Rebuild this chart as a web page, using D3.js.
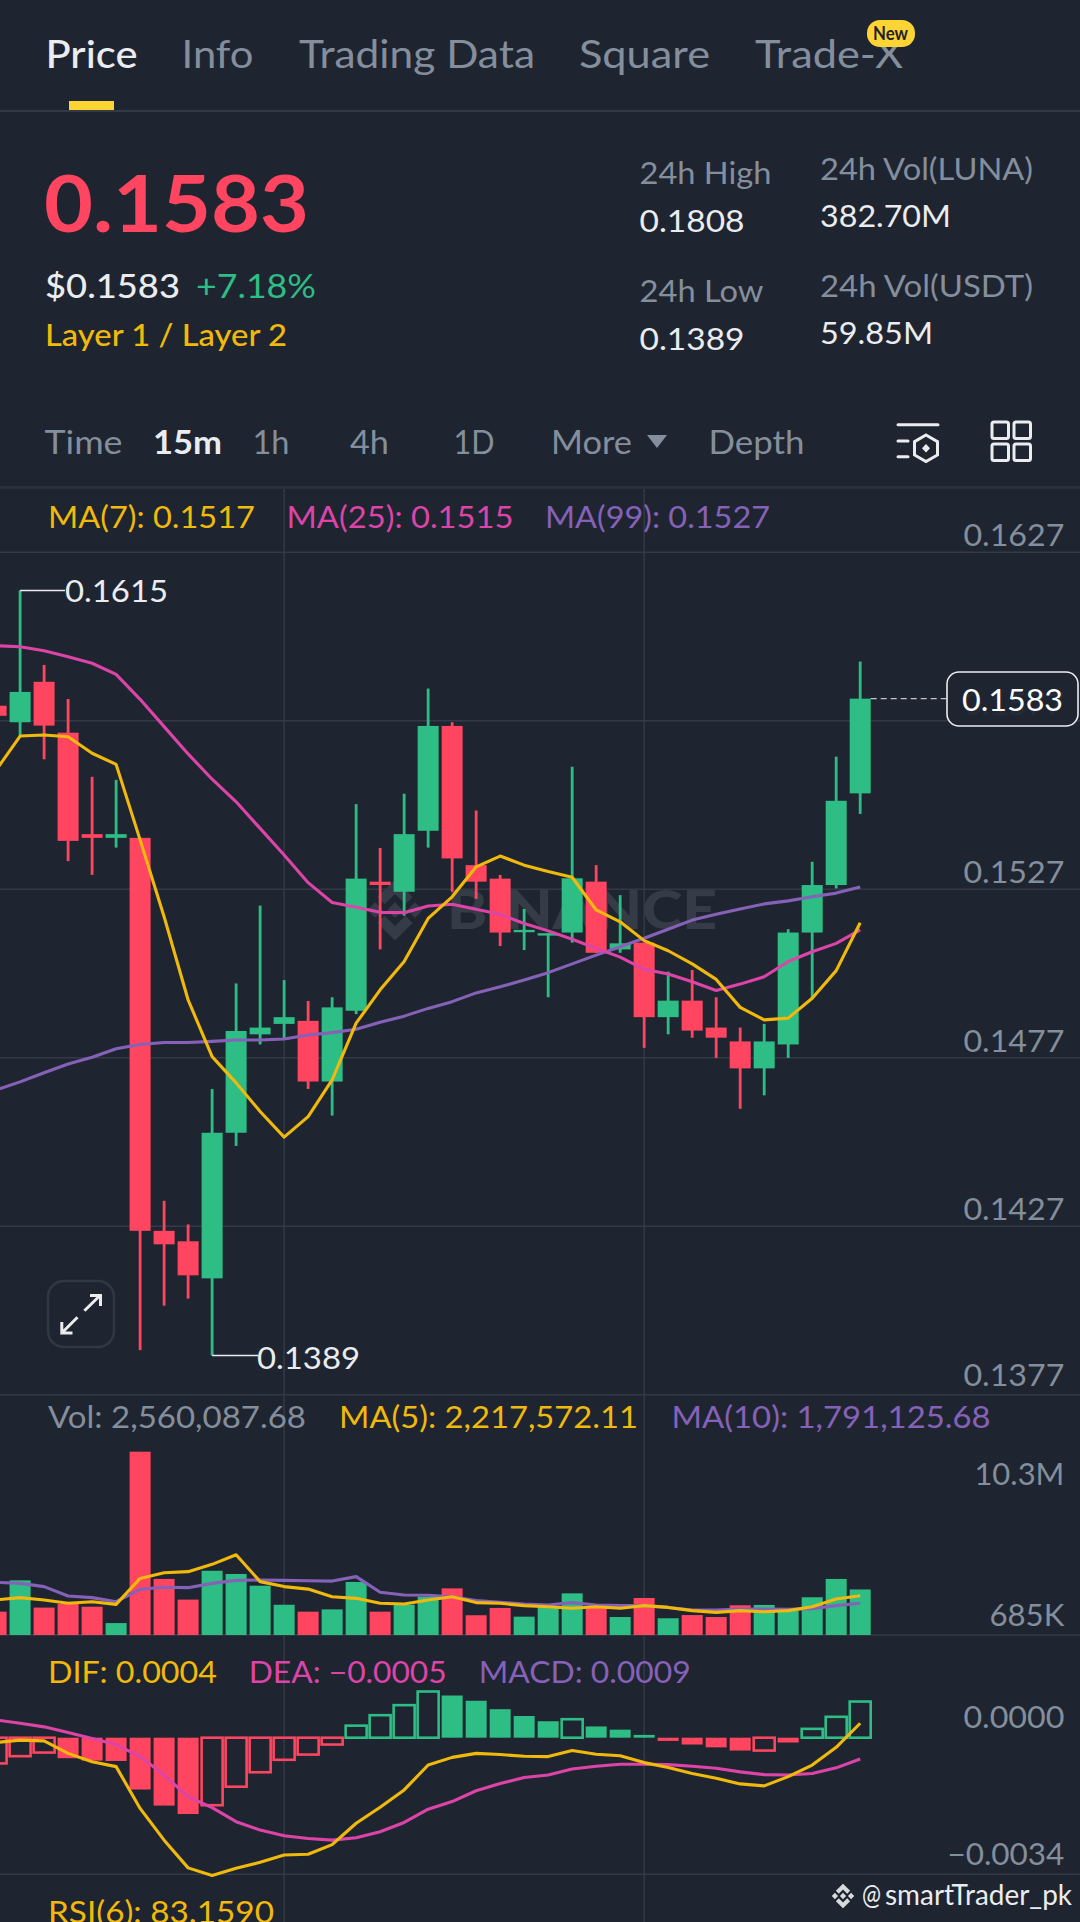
<!DOCTYPE html>
<html>
<head>
<meta charset="utf-8">
<script src="https://cdn.jsdelivr.net/npm/d3@7"></script>
<style>
  html, body { margin: 0; padding: 0; background: #1e2530; overflow: hidden; }
  svg { display: block; }
  text { font-family: Lato, sans-serif; }
</style>
</head>
<body>
<div id="root"></div>
<script>
var bg = "#1e2530", grid = "#343a45", gray = "#848e9c", white = "#eaecef";
var up = "#2ebd85", down = "#ff4560", yellow = "#f0b90b", pink = "#dc44a8", purple = "#8661b8";
var font = "Lato, sans-serif";

// 15m candles, partly cut by the left edge
var candleIndex = d3.range(37);
var opens = [0.15813,0.15764,0.15884,0.15733,0.15432,0.15421,0.15421,0.14255,0.14224,0.14114,0.14546,0.14838,0.14869,0.14878,0.14698,0.14908,0.15291,0.15261,0.15442,0.15753,0.15340,0.15300,0.15141,0.15131,0.15140,0.15291,0.15090,0.15110,0.14889,0.14938,0.14858,0.14817,0.14737,0.14808,0.15140,0.15281,0.15553];
var highs = [0.15813,0.16155,0.15934,0.15833,0.15602,0.15593,0.15421,0.14344,0.14274,0.14676,0.14989,0.15220,0.14999,0.14937,0.14948,0.15521,0.15391,0.15552,0.15864,0.15764,0.15502,0.15311,0.15210,0.15138,0.15632,0.15340,0.15251,0.15110,0.15024,0.15029,0.14948,0.14858,0.14869,0.15150,0.15350,0.15662,0.15944];
var lows = [0.15783,0.15721,0.15654,0.15352,0.15311,0.15392,0.13901,0.14033,0.14054,0.13885,0.14507,0.14808,0.14821,0.14676,0.14597,0.14898,0.15090,0.15190,0.15392,0.15261,0.15240,0.15100,0.15088,0.14948,0.15110,0.15080,0.15080,0.14798,0.14838,0.14828,0.14768,0.14617,0.14657,0.14768,0.14945,0.15271,0.15492];
var closes = [0.15783,0.15854,0.15754,0.15412,0.15421,0.15432,0.14255,0.14215,0.14123,0.14546,0.14848,0.14858,0.14889,0.14698,0.14918,0.15300,0.15281,0.15432,0.15753,0.15360,0.15291,0.15140,0.15148,0.15138,0.15301,0.15080,0.15108,0.14889,0.14938,0.14849,0.14828,0.14737,0.14817,0.15140,0.15281,0.15531,0.15834];

var ma7 = [0.15622,0.15723,0.15726,0.15721,0.15672,0.15639,0.15415,0.15187,0.14940,0.14772,0.14694,0.14609,0.14533,0.14594,0.14703,0.14871,0.14970,0.15054,0.15182,0.15246,0.15335,0.15367,0.15340,0.15321,0.15304,0.15207,0.15172,0.15116,0.15086,0.15047,0.15001,0.14918,0.14881,0.14886,0.14945,0.15027,0.15169];
var ma25 = [0.15991,0.15988,0.15976,0.15958,0.15939,0.15906,0.15832,0.15751,0.15670,0.15595,0.15528,0.15449,0.15370,0.15288,0.15229,0.15215,0.15200,0.15199,0.15219,0.15224,0.15209,0.15194,0.15167,0.15145,0.15120,0.15093,0.15067,0.15031,0.15017,0.14994,0.14968,0.14987,0.15009,0.15054,0.15083,0.15108,0.15148];
var ma99 = [0.14673,0.14697,0.14724,0.14750,0.14770,0.14795,0.14808,0.14814,0.14814,0.14817,0.14821,0.14821,0.14824,0.14836,0.14843,0.14853,0.14874,0.14892,0.14915,0.14935,0.14961,0.14979,0.14999,0.15021,0.15047,0.15073,0.15098,0.15123,0.15150,0.15177,0.15194,0.15210,0.15225,0.15234,0.15246,0.15257,0.15275];

// volume, in millions
var volumes = [1.31,3.07,1.54,1.74,1.59,0.67,10.30,3.15,1.99,3.61,3.43,2.77,1.70,1.31,1.44,2.98,1.31,1.70,2.15,2.62,1.11,1.52,1.03,1.59,2.34,1.59,1.01,2.08,0.94,1.12,1.01,1.67,1.69,1.50,2.12,3.15,2.56];
var volMa5 = [1.97,2.10,1.97,1.78,1.87,1.72,3.18,3.50,3.56,3.97,4.51,3.00,2.72,2.58,2.15,2.06,1.78,1.74,1.97,2.15,1.82,1.78,1.65,1.59,1.50,1.59,1.50,1.65,1.55,1.37,1.27,1.37,1.31,1.37,1.59,2.02,2.21];
var volMa10 = [2.96,2.90,2.72,2.19,2.10,1.87,2.57,2.68,2.66,2.90,3.07,3.09,3.07,3.05,3.03,3.28,2.40,2.25,2.23,2.15,1.93,1.84,1.74,1.69,1.82,1.69,1.65,1.65,1.55,1.40,1.40,1.46,1.46,1.44,1.48,1.65,1.78];

// MACD, in thousandths
var macdHist = [-0.64,-0.46,-0.37,-0.51,-0.57,-0.58,-1.29,-1.69,-1.90,-1.68,-1.22,-0.86,-0.55,-0.42,-0.17,0.30,0.56,0.81,1.15,1.05,0.92,0.71,0.54,0.41,0.46,0.28,0.20,0.07,-0.08,-0.17,-0.24,-0.32,-0.32,-0.12,0.22,0.52,0.90];
var macdHollow = [0,1,2,9,10,11,12,13,14,15,16,17,18,24,32,34,35,36];
var dif = [-0.12,-0.06,-0.08,-0.39,-0.60,-0.72,-1.76,-2.55,-3.24,-3.43,-3.25,-3.10,-2.92,-2.90,-2.66,-2.13,-1.73,-1.30,-0.68,-0.49,-0.39,-0.42,-0.46,-0.47,-0.32,-0.41,-0.45,-0.62,-0.74,-0.89,-1.01,-1.15,-1.20,-0.97,-0.68,-0.24,0.36];
var dea = [0.44,0.36,0.27,0.13,-0.02,-0.17,-0.47,-0.93,-1.47,-1.74,-2.09,-2.30,-2.44,-2.51,-2.55,-2.49,-2.34,-2.11,-1.78,-1.59,-1.32,-1.14,-0.99,-0.93,-0.78,-0.71,-0.66,-0.66,-0.67,-0.71,-0.76,-0.85,-0.92,-0.93,-0.89,-0.75,-0.53];

var priceTicks = [0.1627, 0.1577, 0.1527, 0.1477, 0.1427, 0.1377];
var volTicks = [10.3, 0.685];
var volTickLabels = ["10.3M", "685K"];
var macdTicks = [0, -3.4];
var macdTickLabels = ["0.0000", "\u22120.0034"];

var svg = d3.select("#root").append("svg").attr("width", 1080).attr("height", 1922);
svg.append("rect").attr("width", 1080).attr("height", 1922).attr("fill", bg);

function label(x, y, str, color, size, w, weight, parent) {
    // Lato has a wider left bearing than the original face
    var t = (parent || svg).append("text").attr("x", x - 1).attr("y", y).text(str)
        .attr("fill", color).attr("font-size", size).attr("font-weight", weight || 400);
    if (w) t.attr("textLength", w + 1).attr("lengthAdjust", "spacingAndGlyphs");
    return t;
}

var x = d3.scaleLinear().domain([1, 36]).range([20.1, 860.2]);
var yPrice = d3.scaleLinear().domain([0.1627, 0.1377]).range([551.7, 1394.3]);
var yVol = d3.scaleLinear().domain([0, 10.3]).range([1635, 1451.7]);
var yMacd = d3.scaleLinear().domain([0, -3.4]).range([1737.7, 1874.3]);
var bodyW = 21, wickW = 2.8;

// Header
label(46.5, 68, "Price", white, 39, 91, 500);
var tabs = [["Info", 182.5, 71], ["Trading Data", 300, 235], ["Square", 580, 130], ["Trade-X", 756, 147]];
tabs.forEach(function (t) { label(t[1], 68, t[0], gray, 39, t[2], 400); });
svg.append("rect").attr("x", 69).attr("y", 101).attr("width", 45).attr("height", 9).attr("fill", "#fcd535");
svg.append("rect").attr("x", 0).attr("y", 110).attr("width", 1080).attr("height", 2).attr("fill", grid);
svg.append("rect").attr("x", 867).attr("y", 20).attr("width", 48).attr("height", 27).attr("rx", 13).attr("fill", "#fcd535");
label(874, 40, "New", "#1e2329", 18, 34, 700);

label(45, 231.7, "0.1583", down, 79, 264, 700);
label(46, 298, "$0.1583", white, 33, 134, 500);
label(197, 298, "+7.18%", up, 33, 119, 400);
label(46, 346, "Layer 1 / Layer 2", yellow, 30, 241, 500);

label(640.5, 184, "24h High", gray, 31, 131);
label(640.5, 231.5, "0.1808", white, 31, 104);
label(640.5, 301.7, "24h Low", gray, 31, 123);
label(640.5, 350, "0.1389", white, 31, 104);
label(821, 180, "24h Vol(LUNA)", gray, 30, 212);
label(821, 227, "382.70M", white, 31, 130);
label(821, 296.7, "24h Vol(USDT)", gray, 30, 212);
label(821, 344, "59.85M", white, 31, 112);

label(45.5, 454.3, "Time", gray, 32, 77);
label(154, 454.3, "15m", white, 32, 68, 700);
label(253.5, 454.3, "1h", gray, 32, 36);
label(351, 454.3, "4h", gray, 32, 38);
label(454.5, 454.3, "1D", gray, 32, 40);
label(552, 454.3, "More", gray, 32, 80);
svg.append("path").attr("d", "M647 435H667L657 448Z").attr("fill", gray);
label(709.5, 454.3, "Depth", gray, 32, 95);

var ic = svg.append("g").attr("fill", "none").attr("stroke", white).attr("stroke-width", 3).attr("stroke-linecap", "round");
ic.append("path").attr("d", "M898 424.7H938M898 441H908M898 456.7H908M926 435L937.5 441.6V455L926 461.6L914.5 455V441.6Z");
ic.append("path").attr("d", "M926 444L930 448.3L926 452.6L922 448.3Z").attr("fill", white).attr("stroke", "none");
[992, 1014].forEach(function (sx) {
    [422, 444].forEach(function (sy) {
        ic.append("rect").attr("x", sx).attr("y", sy).attr("width", 16.5).attr("height", 16.5).attr("rx", 2);
    });
});
svg.append("rect").attr("x", 0).attr("y", 486).attr("width", 1080).attr("height", 3).attr("fill", "#2a303a");

// Vertical grid runs through all panels
[12, 27].forEach(function (i) {
    svg.append("line").attr("x1", x(i)).attr("x2", x(i)).attr("y1", 489).attr("y2", 1922)
        .attr("stroke", grid).attr("stroke-width", 1.5);
});

// Watermark
function binanceLogo(cx, cy, k, color, parent) {
    parent.append("path")
        .attr("transform", "translate(" + cx + "," + cy + ") scale(" + k + ") translate(-16,-16)")
        .attr("fill", color)
        .attr("d", "M16 3L23.5 10.5L20.4 13.6L16 9.2L11.6 13.6L8.5 10.5ZM16 29L23.5 21.5L20.4 18.4L16 22.8L11.6 18.4L8.5 21.5ZM16 12.7L19.3 16L16 19.3L12.7 16ZM7.5 12.7L10.8 16L7.5 19.3L4.2 16ZM24.5 12.7L27.8 16L24.5 19.3L21.2 16Z");
}
binanceLogo(395, 910, 2.35, "#363c47", svg);
label(448, 929.3, "BINANCE", "#363c47", 53, 269, 900);

// Price panel
var priceAxis = svg.append("g")
    .call(d3.axisLeft(yPrice).tickValues(priceTicks).tickSize(-1080).tickFormat(d3.format(".4f")));
priceAxis.select(".domain").remove();
priceAxis.selectAll("line").attr("stroke", grid).attr("stroke-width", 1.5);
// the bottom label sits a little higher than the others
priceAxis.selectAll("text").attr("x", 1064.4).attr("dy", null)
    .attr("y", function (d) { return d === 0.1377 ? -9 : -6; })
    .attr("fill", gray).attr("font-size", 31).attr("font-family", font)
    .attr("textLength", 101).attr("lengthAdjust", "spacingAndGlyphs");

var candles = svg.append("g").selectAll("g").data(candleIndex).enter().append("g")
    .attr("fill", function (i) { return closes[i] >= opens[i] ? up : down; });
candles.append("rect")
    .attr("x", function (i) { return x(i) - wickW / 2; })
    .attr("width", wickW)
    .attr("y", function (i) { return yPrice(highs[i]); })
    .attr("height", function (i) { return yPrice(lows[i]) - yPrice(highs[i]); });
candles.append("rect")
    .attr("x", function (i) { return x(i) - bodyW / 2; })
    .attr("width", bodyW)
    .attr("y", function (i) { return yPrice(Math.max(opens[i], closes[i])); })
    .attr("height", function (i) { return Math.abs(yPrice(opens[i]) - yPrice(closes[i])); });

function drawLine(values, y, color) {
    svg.append("path").datum(values)
        .attr("fill", "none").attr("stroke", color).attr("stroke-width", 3.1).attr("stroke-linejoin", "round")
        .attr("d", d3.line().x(function (d, i) { return x(i); }).y(function (d) { return y(d); }));
}
drawLine(ma99, yPrice, purple);
drawLine(ma25, yPrice, pink);
drawLine(ma7, yPrice, yellow);

label(49, 528.3, "MA(7): 0.1517", yellow, 31, 206);
label(287.5, 528.3, "MA(25): 0.1515", pink, 31, 226);
label(546, 528.3, "MA(99): 0.1527", purple, 31, 224);

// High / low markers
var hiY = yPrice(highs[1]), loY = yPrice(lows[9]);
svg.append("path").attr("fill", "none").attr("stroke", white).attr("stroke-width", 1.6)
    .attr("d", "M" + x(1) + " " + hiY + "H65M" + x(9) + " " + loY + "H258");
label(66, hiY + 12, "0.1615", white, 31, 102);
label(258, loY + 13, "0.1389", white, 31, 102);

// Last price tag
var lastY = yPrice(closes[36]);
svg.append("line").attr("x1", x(36) + bodyW / 2).attr("x2", 947).attr("y1", lastY).attr("y2", lastY)
    .attr("stroke", white).attr("stroke-opacity", 0.8).attr("stroke-width", 1.3).attr("stroke-dasharray", "6 4");
svg.append("rect").attr("x", 947).attr("y", 672).attr("width", 131).attr("height", 54).attr("rx", 12)
    .attr("fill", bg).attr("fill-opacity", 0.93).attr("stroke", white).attr("stroke-width", 1.6);
label(963, 710.5, "0.1583", "#ffffff", 31, 100);

// Expand button
svg.append("rect").attr("x", 48).attr("y", 1281).attr("width", 66).attr("height", 66).attr("rx", 16)
    .attr("fill", "none").attr("stroke", "#323843").attr("stroke-width", 2.5);
svg.append("path").attr("fill", "none").attr("stroke", white).attr("stroke-width", 3)
    .attr("d", "M84.4 1310.7L100 1295.5M90 1295.5H100.5V1306M77.5 1317.3L61.8 1333M61.8 1322V1333H72.5");

// Volume panel
label(49, 1427.7, "Vol: 2,560,087.68", gray, 31, 257);
label(340, 1427.7, "MA(5): 2,217,572.11", yellow, 31, 298);
label(672.6, 1427.7, "MA(10): 1,791,125.68", purple, 31, 318);

svg.append("line").attr("x1", 0).attr("x2", 1080).attr("y1", yVol(0)).attr("y2", yVol(0))
    .attr("stroke", grid).attr("stroke-width", 1.5);
svg.append("g").selectAll("rect").data(candleIndex).enter().append("rect")
    .attr("x", function (i) { return x(i) - bodyW / 2; })
    .attr("width", bodyW)
    .attr("y", function (i) { return yVol(volumes[i]); })
    .attr("height", function (i) { return yVol(0) - yVol(volumes[i]); })
    .attr("fill", function (i) { return closes[i] >= opens[i] ? up : down; });
drawLine(volMa10, yVol, purple);
drawLine(volMa5, yVol, yellow);

var volAxis = svg.append("g")
    .call(d3.axisLeft(yVol).tickValues(volTicks).tickSize(0)
        .tickFormat(function (d, i) { return volTickLabels[i]; }));
volAxis.select(".domain").remove();
volAxis.selectAll("text").attr("x", 1064.4).attr("dy", null)
    .attr("y", function (d, i) { return [33.3, 2.9][i]; })
    .attr("fill", gray).attr("font-size", 31).attr("font-family", font)
    .attr("textLength", function (d, i) { return [90, 75][i]; }).attr("lengthAdjust", "spacingAndGlyphs");

// MACD panel
label(49, 1682.7, "DIF: 0.0004", yellow, 31, 168);
label(249.7, 1682.7, "DEA: \u22120.0005", pink, 31, 197);
label(479.7, 1682.7, "MACD: 0.0009", purple, 31, 211);

svg.append("line").attr("x1", 0).attr("x2", 1080).attr("y1", yMacd(-3.4)).attr("y2", yMacd(-3.4))
    .attr("stroke", grid).attr("stroke-width", 1.5);
svg.append("g").selectAll("rect").data(candleIndex).enter().append("rect")
    .attr("x", function (i) { return x(i) - bodyW / 2; })
    .attr("width", bodyW)
    .attr("y", function (i) { return Math.min(yMacd(0), yMacd(macdHist[i])); })
    .attr("height", function (i) { return Math.abs(yMacd(macdHist[i]) - yMacd(0)); })
    .attr("fill", function (i) {
        if (macdHollow.indexOf(i) >= 0) return "none";
        return macdHist[i] >= 0 ? up : down;
    })
    .attr("stroke", function (i) {
        if (macdHollow.indexOf(i) < 0) return "none";
        return macdHist[i] >= 0 ? up : down;
    })
    .attr("stroke-width", 2.6);
drawLine(dea, yMacd, pink);
drawLine(dif, yMacd, yellow);

var macdAxis = svg.append("g")
    .call(d3.axisLeft(yMacd).tickValues(macdTicks).tickSize(0)
        .tickFormat(function (d, i) { return macdTickLabels[i]; }));
macdAxis.select(".domain").remove();
macdAxis.selectAll("text").attr("x", 1064.4).attr("dy", null).attr("y", -10)
    .attr("fill", gray).attr("font-size", 31).attr("font-family", font)
    .attr("textLength", function (d, i) { return [101, 117][i]; }).attr("lengthAdjust", "spacingAndGlyphs");

// RSI legend, cut by the bottom of the page
label(49, 1923.4, "RSI(6): 83.1590", yellow, 31, 225);

// Share tag
binanceLogo(843, 1896, 0.95, "#d8dade", svg);
label(863, 1905, "@", white, 28, 18, 400).attr("font-family", "'Noto Sans'");
label(886, 1905, "smartTrader_pk", white, 28, 186, 400).attr("font-family", "'Noto Sans'");
</script>
</body>
</html>
